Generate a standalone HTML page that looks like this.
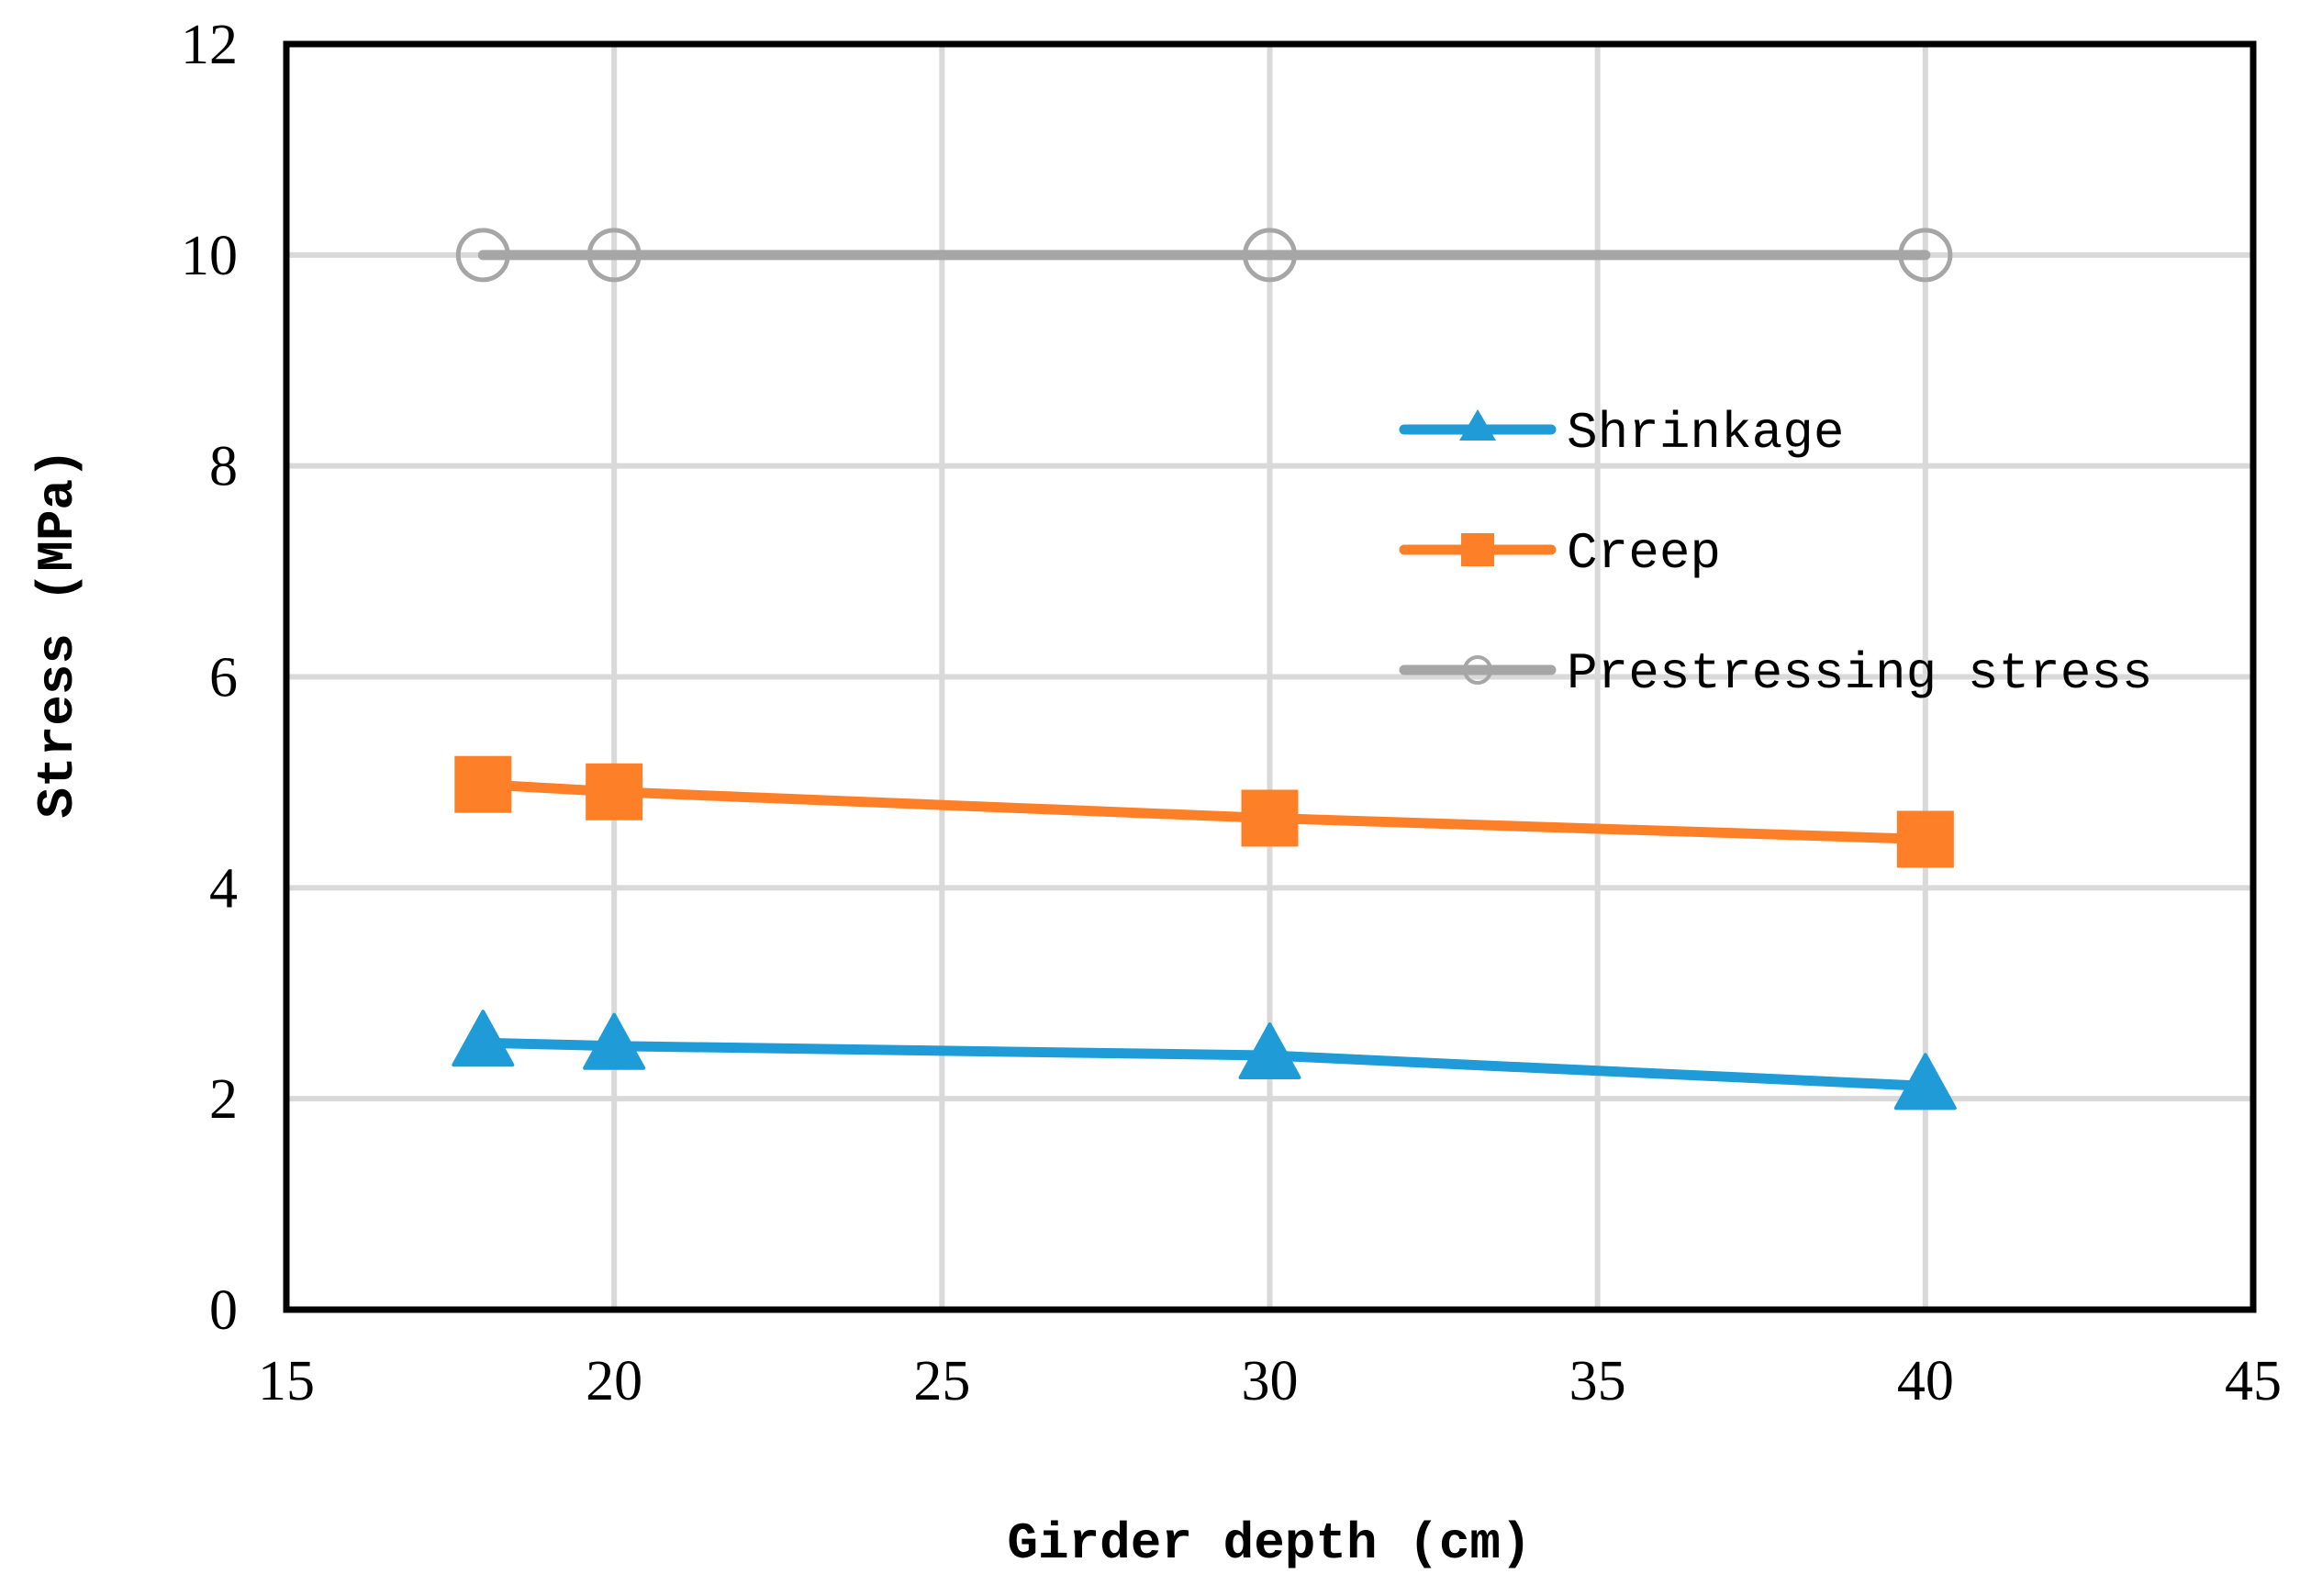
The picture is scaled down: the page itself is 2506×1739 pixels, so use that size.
<!DOCTYPE html>
<html><head><meta charset="utf-8"><style>
html,body{margin:0;padding:0;background:#fff}
svg{display:block}
</style></head><body>
<svg id="chart" width="2506" height="1739" viewBox="0 0 2506 1739" xmlns="http://www.w3.org/2000/svg">
<g id="grid"></g>
<g id="series"></g>
<rect x="312" y="48" width="2143" height="1379" fill="none" stroke="#000" stroke-width="7"/>
<g id="ticks"></g>
<text x="1383" y="1697" text-anchor="middle" font-family="Liberation Mono, monospace" font-weight="bold" font-size="56">Girder depth (cm)</text>
<text transform="translate(78,690) rotate(-90)" text-anchor="middle" font-family="Liberation Mono, monospace" font-weight="bold" font-size="56">Stress (MPa)</text>
<g id="legend"></g>
</svg>
<script>
const xCats = [18, 20, 30, 40];
const shrinkage = [2.53, 2.50, 2.41, 2.12];
const creep = [4.98, 4.91, 4.66, 4.46];
const prestress = [10, 10, 10, 10];
const xTicks = [15, 20, 25, 30, 35, 40, 45];
const yTicks = [0, 2, 4, 6, 8, 10, 12];
const legendNames = ['Shrinkage', 'Creep', 'Prestressing stress'];

const NS = 'http://www.w3.org/2000/svg';
const L = 312, R = 2455, T = 48, B = 1427;
function xs(v){ return L + (v - 15) / 30 * (R - L); }
function ys(v){ return B - v / 12 * (B - T); }
function mk(tag, attrs, parent){
  const e = document.createElementNS(NS, tag);
  for (const k in attrs) e.setAttribute(k, attrs[k]);
  parent.appendChild(e); return e;
}
const grid = document.getElementById('grid');
const ticks = document.getElementById('ticks');
xTicks.forEach(t => {
  const g = mk('line', {x1: xs(t), x2: xs(t), y1: T, y2: B, stroke: '#d9d9d9', 'stroke-width': 6}, grid);
  
  
  const tx = mk('text', {x: xs(t), y: 1525, 'text-anchor': 'middle', 'font-family': 'Liberation Serif, serif', 'font-size': 62}, ticks);
  tx.textContent = t;
  
  
});
yTicks.forEach(t => {
  const g = mk('line', {x1: L, x2: R, y1: ys(t), y2: ys(t), stroke: '#d9d9d9', 'stroke-width': 6}, grid);
  
  
  const tx = mk('text', {x: 259, y: ys(t) + 21, 'text-anchor': 'end', 'font-family': 'Liberation Serif, serif', 'font-size': 62}, ticks);
  tx.textContent = t;
  
  
});
const series = document.getElementById('series');
function marker(type, cx, cy, color, parent){
  let e;
  if (type === 'tri') {
    e = mk('polygon', {points: `${cx},${cy-34} ${cx+32},${cy+24} ${cx-32},${cy+24}`, fill: color, stroke: color, 'stroke-width': 4, 'stroke-linejoin': 'round'}, parent);
  } else if (type === 'sq') {
    e = mk('rect', {x: cx-31, y: cy-31, width: 62, height: 62, fill: color}, parent);
  } else {
    e = mk('circle', {cx: cx, cy: cy, r: 27, fill: 'none', stroke: color, 'stroke-width': 5}, parent);
  }
  return e;
}
function drawSeries(vals, color, type, name){
  const g = mk('g', {}, series);
  
  
  const pl = mk('polyline', {points: vals.map((v,i) => xs(xCats[i]) + ',' + ys(v)).join(' '), fill: 'none', stroke: color, 'stroke-width': 11, 'stroke-linecap': 'round', 'stroke-linejoin': 'round'}, g);
  
  
  vals.forEach((v,i) => {
    const m = marker(type, xs(xCats[i]), ys(v), color, g);
    
    
  });
}
drawSeries(prestress, '#a6a6a6', 'circ', 'prestressing-stress');
drawSeries(creep, '#fd7f28', 'sq', 'creep');
drawSeries(shrinkage, '#1f9bd7', 'tri', 'shrinkage');

const legend = document.getElementById('legend');
const legColors = ['#1f9bd7', '#fd7f28', '#a6a6a6'];
const legTypes = ['tri', 'sq', 'circ'];
legendNames.forEach((n, i) => {
  const y = 468 + i * 131;
  const g = mk('g', {}, legend);
  
  
  mk('line', {x1: 1530, x2: 1690, y1: y, y2: y, stroke: legColors[i], 'stroke-width': 11, 'stroke-linecap': 'round'}, g);
  const m = legTypes[i] === 'circ'
    ? mk('circle', {cx: 1610, cy: y, r: 14, fill: 'none', stroke: legColors[i], 'stroke-width': 4}, g)
    : legTypes[i] === 'sq'
      ? mk('rect', {x: 1592, y: y-18, width: 36, height: 36, fill: legColors[i]}, g)
      : mk('polygon', {points: `1610,${y-22} 1630,${y+12} 1590,${y+12}`, fill: legColors[i]}, g);
  const t = mk('text', {x: 1707, y: y + 19, 'font-family': 'Liberation Mono, monospace', 'font-size': 56}, g);
  t.textContent = n;
});
</script>
</body></html>
